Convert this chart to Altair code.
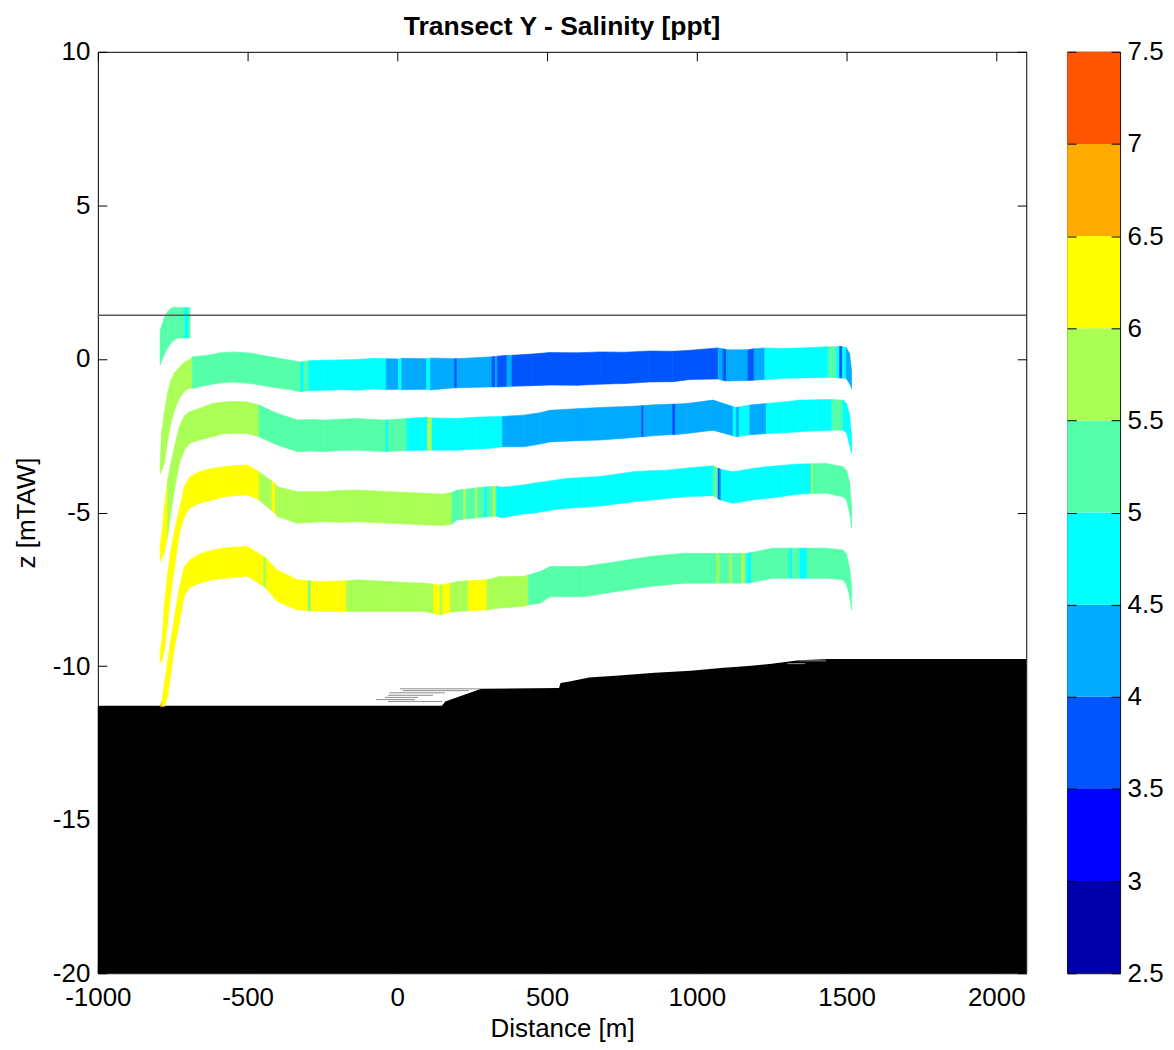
import altair as alt
import pandas as pd

# ---------------- data ----------------
sal_thresholds = [3.0, 3.5, 4.0, 4.5, 5.0, 5.5, 6.0, 6.5, 7.0]
jet_colors = ["#0000AA", "#0000FF", "#0055FF", "#00AAFF", "#00FFFF",
              "#55FFAA", "#AAFF55", "#FFFF00", "#FFAA00", "#FF5500"]

x_domain = [-1000, 2100]
y_domain = [-20, 10]
x_ticks = [-1000, -500, 0, 500, 1000, 1500, 2000]
y_ticks = [-20, -15, -10, -5, 0, 5, 10]
cb_domain = [2.5, 7.5]
cb_ticks = [2.5, 3, 3.5, 4, 4.5, 5, 5.5, 6, 6.5, 7, 7.5]
cb_lo = [2.5, 3.0, 3.5, 4.0, 4.5, 5.0, 5.5, 6.0, 6.5, 7.0]
cb_hi = [3.0, 3.5, 4.0, 4.5, 5.0, 5.5, 6.0, 6.5, 7.0, 7.5]

water_level = [1.42]

# small piece near the surface
band0_x = [-792, -779, -768, -757, -746, -734, -710, -699, -692]
band0_top = [0.93, 1.32, 1.53, 1.64, 1.69, 1.67, 1.67, 1.67, 1.67]
band0_bot = [-0.20, 0.12, 0.34, 0.50, 0.61, 0.68, 0.68, 0.68, 0.68]
band0_sal = [5.25, 5.25, 5.25, 5.25, 5.25, 5.25, 4.75, 5.25]

band1_x = [-792, -786, -778, -767, -756, -744, -728, -711, -694, -684, -634, -590, -546, -490,
           -423, -357, -323, -312, -296, -247, -190, -134, -80, -37, 4, 15, 98, 111, 191, 199,
           316, 327, 334, 366, 383, 450, 510, 600, 677, 760, 843, 920, 977, 1071, 1088, 1099,
           1171, 1191, 1227, 1300, 1380, 1438, 1466, 1477, 1486, 1499, 1510, 1517]
band1_top = [-3.30, -2.32, -1.75, -1.10, -0.70, -0.45, -0.28, -0.10, -0.03, 0.07, 0.12, 0.20,
             0.23, 0.19, 0.07, -0.04, -0.10, -0.08, -0.06, -0.04, -0.03, -0.02, 0.02, 0.01,
             0.00, 0.02, 0.01, 0.03, 0.01, 0.01, 0.07, 0.08, 0.09, 0.12, 0.12, 0.16, 0.21,
             0.20, 0.23, 0.22, 0.26, 0.25, 0.28, 0.36, 0.33, 0.30, 0.30, 0.33, 0.36, 0.34,
             0.37, 0.40, 0.40, 0.41, 0.40, 0.37, 0.18, -0.40]
band1_bot = [-3.75, -3.60, -3.40, -2.64, -2.10, -1.67, -1.29, -1.05, -0.95, -0.96, -0.85, -0.78,
             -0.75, -0.80, -0.91, -1.00, -1.07, -1.05, -1.03, -1.02, -1.00, -1.02, -0.98, -1.00,
             -0.99, -1.00, -0.99, -1.01, -0.94, -0.94, -0.91, -0.91, -0.91, -0.90, -0.89, -0.87,
             -0.85, -0.86, -0.82, -0.80, -0.75, -0.74, -0.67, -0.65, -0.70, -0.72, -0.70, -0.69,
             -0.67, -0.63, -0.61, -0.60, -0.61, -0.62, -0.62, -0.64, -0.80, -0.96]
band1_sal = [5.75, 5.75, 5.75, 5.75, 5.75, 5.75, 5.75, 5.75, 5.75, 5.25, 5.25, 5.25, 5.25, 5.25,
             5.25, 5.25, 4.75, 5.25, 4.75, 4.75, 4.75, 4.75, 4.75, 4.25, 4.75, 4.25, 4.75, 4.25,
             3.75, 4.25, 3.75, 4.25, 3.75, 4.25, 3.75, 3.75, 3.75, 3.75, 3.75, 3.75, 3.75, 3.75,
             3.75, 4.25, 3.75, 4.25, 3.75, 4.25, 4.75, 4.75, 4.75, 5.25, 4.75, 3.75, 4.75, 4.25,
             4.25]

band2_x = [-792, -786, -778, -767, -756, -744, -728, -711, -694, -661, -617, -579, -540, -501,
           -462, -401, -334, -290, -247, -190, -134, -80, -37, -29, 32, 101, 116, 199, 260, 310,
           351, 421, 477, 510, 600, 677, 760, 816, 823, 843, 919, 929, 966, 1054, 1121, 1132,
           1141, 1177, 1232, 1290, 1343, 1400, 1451, 1488, 1500, 1510, 1517]
band2_top = [-6.10, -5.67, -4.81, -3.94, -3.40, -2.86, -2.21, -1.85, -1.72, -1.61, -1.45, -1.40,
             -1.38, -1.40, -1.50, -1.77, -1.99, -1.97, -1.99, -1.96, -1.94, -1.97, -1.99, -1.98,
             -1.94, -1.90, -1.92, -1.94, -1.90, -1.88, -1.87, -1.83, -1.75, -1.67, -1.62, -1.58,
             -1.55, -1.52, -1.52, -1.50, -1.47, -1.47, -1.45, -1.34, -1.55, -1.58, -1.56, -1.50,
             -1.45, -1.40, -1.34, -1.33, -1.32, -1.34, -1.45, -1.80, -2.50]
band2_bot = [-6.60, -6.45, -6.30, -5.80, -5.00, -4.25, -3.40, -2.97, -2.75, -2.64, -2.53, -2.43,
             -2.42, -2.43, -2.53, -2.80, -3.02, -3.00, -3.02, -2.98, -2.97, -3.00, -3.02, -3.01,
             -2.98, -2.97, -2.97, -2.97, -2.93, -2.91, -2.86, -2.86, -2.77, -2.70, -2.66, -2.64,
             -2.58, -2.53, -2.53, -2.51, -2.46, -2.46, -2.43, -2.32, -2.50, -2.53, -2.52, -2.47,
             -2.43, -2.40, -2.37, -2.34, -2.32, -2.32, -2.40, -2.80, -3.07]
band2_sal = [6.25, 6.25, 6.25, 5.75, 5.75, 5.75, 5.75, 5.75, 5.75, 5.75, 5.75, 5.75, 5.75, 5.75,
             5.25, 5.25, 5.25, 5.25, 5.25, 5.25, 5.25, 5.25, 4.75, 5.25, 4.75, 5.75, 4.75, 4.75,
             4.75, 4.75, 4.25, 4.25, 4.25, 4.25, 4.25, 4.25, 4.25, 3.75, 4.25, 4.25, 3.75, 4.25,
             4.25, 4.25, 4.75, 4.25, 4.75, 4.25, 4.75, 4.75, 4.75, 4.75, 5.25, 4.75, 4.75, 4.75]

band3_x = [-792, -786, -778, -767, -756, -744, -728, -711, -694, -661, -617, -579, -540, -501,
           -462, -418, -407, -401, -334, -247, -190, -134, -23, 87, 150, 182, 199, 221, 230, 260,
           268, 290, 300, 320, 330, 349, 421, 454, 510, 566, 621, 677, 732, 788, 843, 899, 970,
           1054, 1071, 1077, 1082, 1121, 1177, 1232, 1290, 1343, 1382, 1388, 1432, 1488, 1500,
           1510, 1517]
band3_top = [-9.50, -9.20, -8.06, -6.97, -6.25, -5.60, -4.90, -4.15, -3.85, -3.67, -3.56, -3.51,
             -3.47, -3.45, -3.67, -3.98, -4.07, -4.16, -4.32, -4.32, -4.28, -4.27, -4.32, -4.37,
             -4.40, -4.35, -4.27, -4.25, -4.24, -4.20, -4.19, -4.17, -4.16, -4.15, -4.14, -4.18,
             -4.10, -4.05, -3.97, -3.89, -3.86, -3.83, -3.75, -3.67, -3.64, -3.62, -3.55, -3.48,
             -3.55, -3.58, -3.60, -3.67, -3.58, -3.51, -3.46, -3.42, -3.41, -3.41, -3.40, -3.51,
             -3.62, -4.00, -4.80]
band3_bot = [-9.90, -9.80, -9.50, -8.60, -7.60, -6.80, -5.67, -5.13, -4.86, -4.70, -4.59, -4.49,
             -4.45, -4.43, -4.59, -4.95, -5.05, -5.13, -5.35, -5.30, -5.32, -5.30, -5.35, -5.40,
             -5.42, -5.38, -5.24, -5.22, -5.21, -5.18, -5.17, -5.15, -5.14, -5.13, -5.12, -5.17,
             -5.05, -5.02, -4.93, -4.86, -4.83, -4.79, -4.72, -4.65, -4.60, -4.54, -4.48, -4.45,
             -4.55, -4.58, -4.60, -4.70, -4.60, -4.54, -4.47, -4.40, -4.38, -4.38, -4.37, -4.49,
             -4.60, -5.00, -5.51]
band3_sal = [6.25, 6.25, 6.25, 6.25, 6.25, 6.25, 6.25, 6.25, 6.25, 6.25, 6.25, 6.25, 6.25, 6.25,
             5.75, 6.25, 5.75, 5.75, 5.75, 5.75, 5.75, 5.75, 5.75, 5.75, 5.75, 5.25, 5.25, 5.75,
             5.25, 5.75, 5.25, 4.75, 5.25, 5.75, 4.75, 4.75, 4.75, 4.75, 4.75, 4.75, 4.75, 4.75,
             4.75, 4.75, 4.75, 4.75, 4.75, 5.25, 3.75, 4.25, 4.75, 4.75, 4.75, 4.75, 4.75, 4.75,
             5.75, 5.25, 5.25, 5.25, 5.25, 5.25]

band4_x = [-792, -786, -778, -767, -756, -744, -728, -711, -694, -661, -617, -579, -540, -501,
           -446, -437, -401, -334, -296, -289, -247, -170, -134, -23, 87, 121, 143, 152, 177, 199,
           238, 299, 343, 421, 438, 477, 510, 621, 732, 843, 954, 1066, 1075, 1110, 1118, 1149,
           1160, 1168, 1182, 1254, 1310, 1318, 1343, 1368, 1432, 1488, 1500, 1510, 1517]
band4_top = [-11.30, -11.15, -10.60, -9.85, -9.14, -8.40, -7.45, -6.76, -6.55, -6.35, -6.22,
             -6.16, -6.12, -6.11, -6.43, -6.50, -6.87, -7.19, -7.22, -7.23, -7.25, -7.22, -7.19,
             -7.25, -7.30, -7.33, -7.36, -7.34, -7.30, -7.25, -7.22, -7.19, -7.08, -7.08, -7.03,
             -6.92, -6.76, -6.76, -6.60, -6.43, -6.33, -6.33, -6.33, -6.33, -6.33, -6.33, -6.33,
             -6.33, -6.30, -6.16, -6.16, -6.16, -6.16, -6.16, -6.16, -6.22, -6.35, -6.80, -7.40]
band4_bot = [-11.31, -11.31, -11.31, -11.00, -10.20, -9.40, -8.60, -7.70, -7.45, -7.30, -7.19,
             -7.14, -7.10, -7.08, -7.41, -7.48, -7.90, -8.17, -8.20, -8.21, -8.22, -8.22, -8.22,
             -8.22, -8.22, -8.28, -8.33, -8.30, -8.25, -8.22, -8.20, -8.17, -8.11, -8.06, -8.00,
             -7.95, -7.74, -7.74, -7.57, -7.41, -7.30, -7.30, -7.30, -7.30, -7.30, -7.30, -7.30,
             -7.30, -7.28, -7.14, -7.14, -7.14, -7.14, -7.14, -7.14, -7.19, -7.35, -7.70, -8.17]
band4_sal = [6.75, 6.25, 6.25, 6.25, 6.25, 6.25, 6.25, 6.25, 6.25, 6.25, 6.25, 6.25, 6.25, 6.25,
             5.75, 6.25, 6.25, 6.25, 5.25, 6.25, 6.25, 5.75, 5.75, 5.75, 5.75, 6.25, 5.75, 6.25,
             5.75, 5.75, 6.25, 5.75, 5.75, 5.75, 5.25, 5.25, 5.25, 5.25, 5.25, 5.25, 5.25, 5.75,
             5.25, 5.75, 5.25, 5.75, 5.25, 4.75, 5.25, 5.25, 4.75, 5.25, 4.75, 5.25, 5.25, 5.25,
             5.25, 5.25]

# sea bed
bed_x = [-1000, 149, 160, 280, 540, 545, 575, 640, 740, 860, 980, 1080, 1182, 1250, 1342, 1442, 2100]
bed_z = [-11.29, -11.29, -11.15, -10.74, -10.71, -10.55, -10.50, -10.37, -10.31, -10.22, -10.15,
         -10.06, -9.99, -9.92, -9.81, -9.77, -9.77]
# thin grey streaks at the bed edge
streak_x1 = [9, 19, -27, -31, -41, -71, -31, 1302, 1342]
streak_x2 = [280, 239, 159, 119, 69, 59, 149, 1362, 1432]
streak_z = [-10.74, -10.80, -10.87, -10.95, -11.02, -11.09, -11.15, -9.92, -9.83]

# ---------------- tables ----------------
def band_rows(name, xs, tops, bots, sals):
    assert len(xs) == len(tops) == len(bots) == len(sals) + 1, name
    rows = []
    for i, s in enumerate(sals):
        for j in (i, i + 1):
            rows.append({"x": xs[j], "top": tops[j], "bot": bots[j],
                         "seg": f"{name}-{i}", "sal": s})
    return rows

rows = []
rows += band_rows("b0", band0_x, band0_top, band0_bot, band0_sal)
rows += band_rows("b1", band1_x, band1_top, band1_bot, band1_sal)
rows += band_rows("b2", band2_x, band2_top, band2_bot, band2_sal)
rows += band_rows("b3", band3_x, band3_top, band3_bot, band3_sal)
rows += band_rows("b4", band4_x, band4_top, band4_bot, band4_sal)
band_df = pd.DataFrame(rows)

bed_df = pd.DataFrame({"x": bed_x, "z": bed_z})
streak_df = pd.DataFrame({"x1": streak_x1, "x2": streak_x2, "z": streak_z})
water_df = pd.DataFrame({"z": water_level, "xa": [x_domain[0]], "xb": [x_domain[1]]})
cb_df = pd.DataFrame({"lo": cb_lo, "hi": cb_hi, "c0": [0] * len(cb_lo), "c1": [1] * len(cb_lo)})

# ---------------- styling ----------------
FONT = "Liberation Sans, Arial, Helvetica, sans-serif"
x_scale = alt.Scale(domain=x_domain, nice=False, zero=False)
y_scale = alt.Scale(domain=y_domain, nice=False, zero=False)
sal_scale = alt.Scale(type="threshold", domain=sal_thresholds, range=jet_colors)

lab = dict(labelFont=FONT, labelFontSize=26, labelColor="black",
           labelExpr="'' + datum.value", labelFlush=False, labelOverlap=False)
tit = dict(titleFont=FONT, titleFontSize=26, titleFontWeight="normal", titleColor="black")
tk = dict(tickSize=9, offset=-9, tickColor="black", tickWidth=1, domain=False, grid=False)

x_bottom = alt.Axis(values=x_ticks, orient="bottom", title="Distance [m]", labelPadding=11,
                    titlePadding=5, **lab, **tit, **tk)
y_left = alt.Axis(values=y_ticks, orient="left", title="z [mTAW]", labelPadding=8,
                  titlePadding=13, **lab, **tit, **tk)
x_top = alt.Axis(values=x_ticks, orient="top", labels=False, title=None, **tk)
y_right = alt.Axis(values=y_ticks, orient="right", labels=False, title=None, **tk)

bed = alt.Chart(bed_df).mark_area(color="black", interpolate="linear").encode(
    x=alt.X("x:Q", scale=x_scale, axis=x_top),
    y=alt.Y("z:Q", scale=y_scale, axis=y_right),
    y2=alt.datum(y_domain[0]),
)

streaks = alt.Chart(streak_df).mark_rule(color="#8c8c8c", strokeWidth=1).encode(
    x=alt.X("x1:Q", scale=x_scale, axis=None),
    x2="x2:Q",
    y=alt.Y("z:Q", scale=y_scale, axis=None),
)

bands = alt.Chart(band_df).mark_area(interpolate="linear", strokeWidth=0.6).encode(
    x=alt.X("x:Q", scale=x_scale, axis=x_bottom),
    y=alt.Y("top:Q", scale=y_scale, axis=y_left),
    y2="bot:Q",
    detail="seg:N",
    fill=alt.Fill("sal:Q", scale=sal_scale, legend=None),
    stroke=alt.Stroke("sal:Q", scale=sal_scale, legend=None),
)

water = alt.Chart(water_df).mark_rule(color="#5a5a5a", strokeWidth=1.5).encode(
    x=alt.X("xa:Q", scale=x_scale, axis=None),
    x2="xb:Q",
    y=alt.Y("z:Q", scale=y_scale, axis=None),
)

main = alt.layer(bed, streaks, bands, water).resolve_axis(
    x="independent", y="independent"
).properties(
    width=930, height=923,
    title=alt.TitleParams(text="Transect Y - Salinity [ppt]", font=FONT, fontSize=26.5,
                          fontWeight="bold", color="black", anchor="middle",
                          frame="group", baseline="alphabetic", offset=21, dy=44),
)

cb_scale = alt.Scale(domain=cb_domain, nice=False, zero=False)
cbx_scale = alt.Scale(domain=[0, 1], nice=False, zero=False)
cb_right = alt.Axis(values=cb_ticks, orient="right", title=None, labelPadding=7, zindex=1,
                    **lab, **tk)
cb_left = alt.Axis(values=cb_ticks, orient="left", title=None, labels=False, zindex=1, **tk)

cb_rect = alt.Chart(cb_df).mark_rect().encode(
    x=alt.X("c0:Q", scale=cbx_scale, axis=None),
    x2="c1:Q",
    y=alt.Y("lo:Q", scale=cb_scale, axis=cb_right),
    y2="hi:Q",
    fill=alt.Fill("lo:Q", scale=sal_scale, legend=None),
)
cb_ghost = alt.Chart(cb_df).mark_rect(opacity=0).encode(
    x=alt.X("c0:Q", scale=cbx_scale, axis=None),
    x2="c1:Q",
    y=alt.Y("lo:Q", scale=cb_scale, axis=cb_left),
    y2="hi:Q",
)
colorbar = alt.layer(cb_rect, cb_ghost).resolve_axis(y="independent").properties(
    width=53, height=923)

chart = alt.hconcat(main, colorbar, spacing=41, bounds="flush").properties(
    padding={"left": 4, "top": 5, "right": 2, "bottom": 2}
).configure_view(stroke="black", strokeWidth=1)

chart.save("out.html", embed_options={"renderer": "svg", "actions": False})
